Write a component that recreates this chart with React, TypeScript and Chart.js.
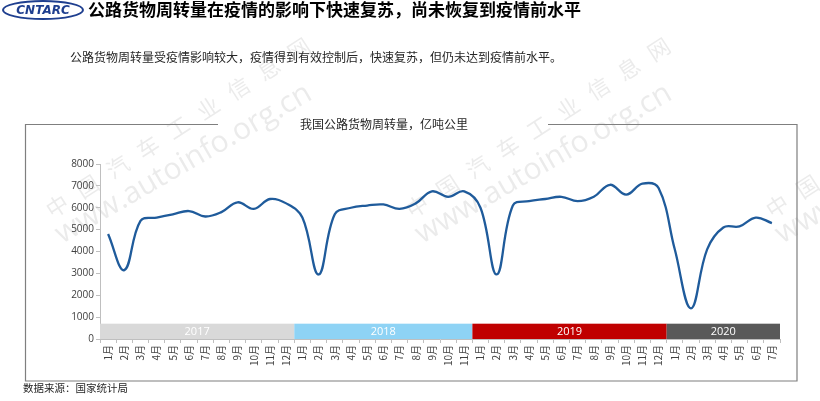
import React, { useEffect, useRef } from 'react';
import { Chart, registerables } from 'chart.js';

Chart.register(...registerables);

const years = ['2017', '2018', '2019', '2020'];
const months2017 = ['1月', '2月', '3月', '4月', '5月', '6月', '7月', '8月', '9月', '10月', '11月', '12月'];
const months2018 = ['1月', '2月', '3月', '4月', '5月', '6月', '7月', '8月', '9月', '10月', '11月'];
const months2019 = ['1月', '2月', '3月', '4月', '5月', '6月', '7月', '8月', '9月', '10月', '11月', '12月'];
const months2020 = ['1月', '2月', '3月', '4月', '5月', '6月', '7月'];

const values2017 = [4800, 3150, 5400, 5550, 5700, 5850, 5600, 5800, 6250, 5950, 6400, 6200];
const values2018 = [5550, 2950, 5700, 6000, 6100, 6150, 5950, 6200, 6750, 6500, 6750];
const values2019 = [6000, 2950, 6100, 6300, 6400, 6500, 6300, 6500, 7050, 6600, 7100, 6900];
const values2020 = [4100, 1400, 4100, 5100, 5150, 5550, 5300];

const yearColors = ['#d9d9d9', '#8ed3f5', '#c00000', '#595959'];
const yTicks = [0, 1000, 2000, 3000, 4000, 5000, 6000, 7000, 8000];

const mainTitle = '公路货物周转量在疫情的影响下快速复苏，尚未恢复到疫情前水平';
const subTitle = '公路货物周转量受疫情影响较大，疫情得到有效控制后，快速复苏，但仍未达到疫情前水平。';
const chartTitle = '我国公路货物周转量，亿吨公里';
const sourceText = '数据来源：国家统计局';
const logoText = 'CNTARC';
const wmChinese = '中国汽车工业信息网';
const wmUrl = 'www.autoinfo.org.cn';

const monthGroups = [months2017, months2018, months2019, months2020];
const valueGroups = [values2017, values2018, values2019, values2020];

const CJK = '"Noto Sans CJK SC", "Noto Sans", sans-serif';

export default function App() {
  const ref = useRef<HTMLCanvasElement | null>(null);

  useEffect(() => {
    const canvas = ref.current;
    if (!canvas) return;
    const labels = monthGroups.flat();
    const data = valueGroups.flat();

    const decor = {
      id: 'decor',
      beforeDraw(chart: any) {
        const ctx = chart.ctx;
        ctx.save();
        ctx.fillStyle = '#ffffff';
        ctx.fillRect(0, 0, chart.width, chart.height);
        // watermark
        ctx.fillStyle = 'rgba(120,120,120,0.15)';
        for (let k = 0; k < 3; k++) {
          const dx = k * 360;
          ctx.save();
          ctx.translate(48 + dx, 212);
          ctx.rotate(-33 * Math.PI / 180);
          ctx.font = `22px ${CJK}`;
          ctx.textBaseline = 'middle';
          const chars = Array.from(wmChinese);
          chars.forEach((c, i) => ctx.fillText(c, i * 36, 0));
          ctx.restore();
          ctx.save();
          ctx.translate(62 + dx, 244);
          ctx.rotate(-30 * Math.PI / 180);
          ctx.font = '30px "Open Sans", sans-serif';
          ctx.textBaseline = 'alphabetic';
          ctx.fillText(wmUrl, 0, 0);
          ctx.restore();
        }
        ctx.restore();
      },
      beforeDatasetsDraw(chart: any) {
        const ctx = chart.ctx;
        const x = chart.scales.x;
        const y = chart.scales.y;
        const w = (x.right - x.left) / labels.length;
        const top = y.getPixelForValue(700);
        const bottom = y.getPixelForValue(0);
        let start = 0;
        ctx.save();
        monthGroups.forEach((g, i) => {
          const left = x.getPixelForValue(start) - w / 2;
          const right = x.getPixelForValue(start + g.length - 1) + w / 2;
          ctx.fillStyle = yearColors[i];
          ctx.fillRect(left, top, right - left, bottom - top);
          ctx.fillStyle = '#ffffff';
          ctx.font = '11px "Open Sans", sans-serif';
          ctx.textAlign = 'center';
          ctx.textBaseline = 'middle';
          ctx.fillText(years[i], (left + right) / 2, (top + bottom) / 2 + 0.5);
          start += g.length;
        });
        ctx.restore();
      },
      afterDraw(chart: any) {
        const ctx = chart.ctx;
        ctx.save();
        // logo
        ctx.strokeStyle = '#1f3f8f';
        ctx.lineWidth = 2;
        ctx.beginPath();
        ctx.ellipse(43, 10, 40, 9, 0, 0, Math.PI * 2);
        ctx.stroke();
        ctx.fillStyle = '#1f3f8f';
        ctx.font = 'bold italic 12px "DejaVu Sans", sans-serif';
        ctx.textAlign = 'center';
        ctx.textBaseline = 'middle';
        ctx.fillText(logoText, 43, 10.5);
        // main title
        ctx.textAlign = 'left';
        ctx.fillStyle = '#000000';
        ctx.font = `bold 17px ${CJK}`;
        ctx.fillText(mainTitle, 88, 10);
        // subtitle
        ctx.fillStyle = '#262626';
        ctx.font = `12px ${CJK}`;
        ctx.fillText(subTitle, 70, 57);
        // frame
        ctx.strokeStyle = '#7f7f7f';
        ctx.lineWidth = 1.2;
        ctx.beginPath();
        ctx.moveTo(218, 124.5);
        ctx.lineTo(25.5, 124.5);
        ctx.lineTo(25.5, 381);
        ctx.lineTo(797, 381);
        ctx.lineTo(797, 124.5);
        ctx.lineTo(548, 124.5);
        ctx.stroke();
        // chart title
        ctx.fillStyle = '#262626';
        ctx.font = `12px ${CJK}`;
        ctx.textAlign = 'left';
        ctx.fillText(chartTitle, 300, 124);
        // source
        ctx.fillStyle = '#262626';
        ctx.font = `10.5px ${CJK}`;
        ctx.fillText(sourceText, 23, 388);
        ctx.restore();
      },
    };

    const chart = new Chart(canvas, {
      type: 'line',
      data: {
        labels,
        datasets: [
          {
            data,
            borderColor: '#1f5b9b',
            borderWidth: 2.3,
            pointRadius: 0,
            tension: 0.4,
            fill: false,
          },
        ],
      },
      options: {
        responsive: false,
        animation: false,
        layout: { padding: { left: 60, right: 40, top: 164, bottom: 22 } },
        plugins: { legend: { display: false }, title: { display: false }, tooltip: { enabled: false } },
        scales: {
          x: {
            type: 'category',
            offset: true,
            grid: { display: true, offset: true, drawOnChartArea: false, drawTicks: true, tickLength: 4, color: '#bfbfbf' },
            border: { display: true, color: '#bfbfbf' },
            ticks: {
              autoSkip: false,
              minRotation: 90,
              maxRotation: 90,
              padding: 2,
              color: '#404040',
              font: { size: 10, family: CJK },
            },
            afterFit(scale: any) {
              scale.height = 40;
            },
          },
          y: {
            min: 0,
            max: 8000,
            afterBuildTicks(scale: any) {
              scale.ticks = yTicks.map((v) => ({ value: v }));
            },
            grid: { display: true, drawOnChartArea: false, drawTicks: true, tickLength: 4, color: '#bfbfbf' },
            border: { display: true, color: '#bfbfbf' },
            ticks: {
              padding: 2,
              color: '#404040',
              font: { size: 10, family: '"Open Sans", sans-serif' },
              callback: (v: any) => String(v),
            },
            afterFit(scale: any) {
              scale.width = 40;
            },
          },
        },
      },
      plugins: [decor],
    });
    return () => chart.destroy();
  }, []);

  return (
    <div style={{ position: 'fixed', left: 0, top: 0, width: 820, height: 401, background: '#fff' }}>
      <canvas ref={ref} width={820} height={401} style={{ display: 'block', width: 820, height: 401 }} />
    </div>
  );
}
